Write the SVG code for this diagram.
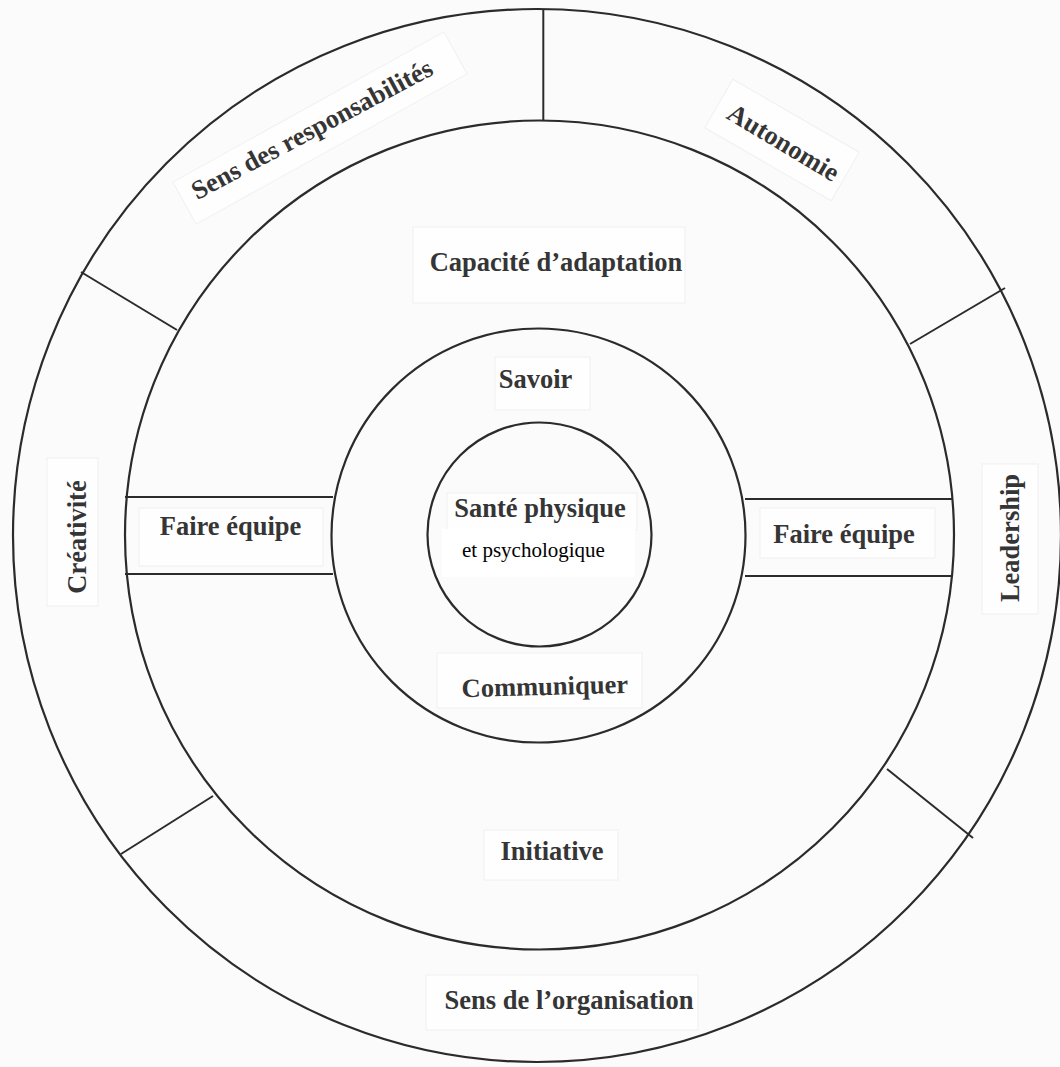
<svg xmlns="http://www.w3.org/2000/svg" width="1060" height="1067" viewBox="0 0 1060 1067">
  <style>
    .ring { fill: none; stroke: #2b2b2b; stroke-width: 2.2; }
    .div { stroke: #2b2b2b; stroke-width: 2; fill: none; }
    .lbl { font-family: "Liberation Serif", "Times New Roman", serif; font-weight: bold; font-size: 26.5px; fill: #353535; text-anchor: middle; }
    .plain { font-family: "Liberation Serif", "Times New Roman", serif; font-size: 21px; fill: #000; text-anchor: middle; }
    .tag { fill: #fefefe; stroke: #f0f0f0; stroke-width: 1; }
  </style>

  <rect x="0" y="0" width="1060" height="1067" fill="#fbfbfb"/>

  <!-- concentric rings -->
  <g id="rings">
    <ellipse class="ring" cx="537" cy="535.5" rx="524" ry="526.5"/>
    <circle class="ring" cx="539.5" cy="535" r="414.5"/>
    <circle class="ring" cx="538.5" cy="535.5" r="207"/>
    <circle class="ring" cx="539.5" cy="534.5" r="112"/>
  </g>

  <!-- dividers between sectors and the team bars -->
  <g id="connectors">
    <line class="div" x1="543.3" y1="9" x2="543.3" y2="121"/>
    <line class="div" x1="81" y1="272" x2="177" y2="330"/>
    <line class="div" x1="1005" y1="288" x2="910" y2="344"/>
    <line class="div" x1="121" y1="854" x2="213" y2="796"/>
    <line class="div" x1="973" y1="838" x2="887" y2="769"/>
    <line class="div" x1="125" y1="497" x2="333" y2="497"/>
    <line class="div" x1="125" y1="574" x2="333" y2="574"/>
    <line class="div" x1="745" y1="499" x2="953" y2="499"/>
    <line class="div" x1="745" y1="576" x2="953" y2="576"/>
  </g>

  <!-- outer ring labels -->
  <g id="sens-responsabilites">
    <rect class="tag" x="165" y="104" width="310" height="48" transform="rotate(-29 320 128)"/>
    <text class="lbl" x="316" y="137" transform="rotate(-28 316 137)">Sens des responsabilités</text>
  </g>
  <g id="autonomie">
    <rect class="tag" x="709" y="112" width="146" height="56" transform="rotate(30 782 140)"/>
    <text class="lbl" x="779" y="150" transform="rotate(31 779 150)">Autonomie</text>
  </g>
  <g id="creativite">
    <rect class="tag" x="47" y="458" width="51" height="148"/>
    <text class="lbl" x="85.5" y="537" transform="rotate(-90 85.5 537)">Créativité</text>
  </g>
  <g id="leadership">
    <rect class="tag" x="982" y="464" width="56" height="150"/>
    <text class="lbl" x="1019" y="538" transform="rotate(-90 1019 538)">Leadership</text>
  </g>
  <g id="sens-organisation">
    <rect class="tag" x="426" y="975" width="272" height="55"/>
    <text class="lbl" x="569" y="1009">Sens de l’organisation</text>
  </g>

  <!-- middle ring labels -->
  <g id="capacite-adaptation">
    <rect class="tag" x="413" y="227" width="272" height="76"/>
    <text class="lbl" x="556" y="271">Capacité d’adaptation</text>
  </g>
  <g id="faire-equipe-gauche">
    <rect class="tag" x="139" y="508" width="184" height="58"/>
    <text class="lbl" x="230.5" y="535">Faire équipe</text>
  </g>
  <g id="faire-equipe-droite">
    <rect class="tag" x="760" y="508" width="175" height="50"/>
    <text class="lbl" x="844" y="543">Faire équipe</text>
  </g>
  <g id="initiative">
    <rect class="tag" x="484" y="830" width="134" height="50"/>
    <text class="lbl" x="552" y="860">Initiative</text>
  </g>

  <!-- inner ring labels -->
  <g id="savoir">
    <rect class="tag" x="495" y="357" width="95" height="53"/>
    <text class="lbl" x="535.5" y="388">Savoir</text>
  </g>
  <g id="communiquer">
    <rect class="tag" x="437" y="653" width="205" height="55"/>
    <text class="lbl" x="545" y="695" transform="rotate(-1.5 545 695)">Communiquer</text>
  </g>

  <!-- centre -->
  <g id="sante">
    <rect class="tag" x="447" y="493" width="190" height="37"/>
    <text class="lbl" x="540" y="517">Santé physique</text>
    <rect x="442" y="529" width="193" height="48" fill="#ffffff"/>
    <text class="plain" x="533.5" y="557">et psychologique</text>
  </g>
</svg>
